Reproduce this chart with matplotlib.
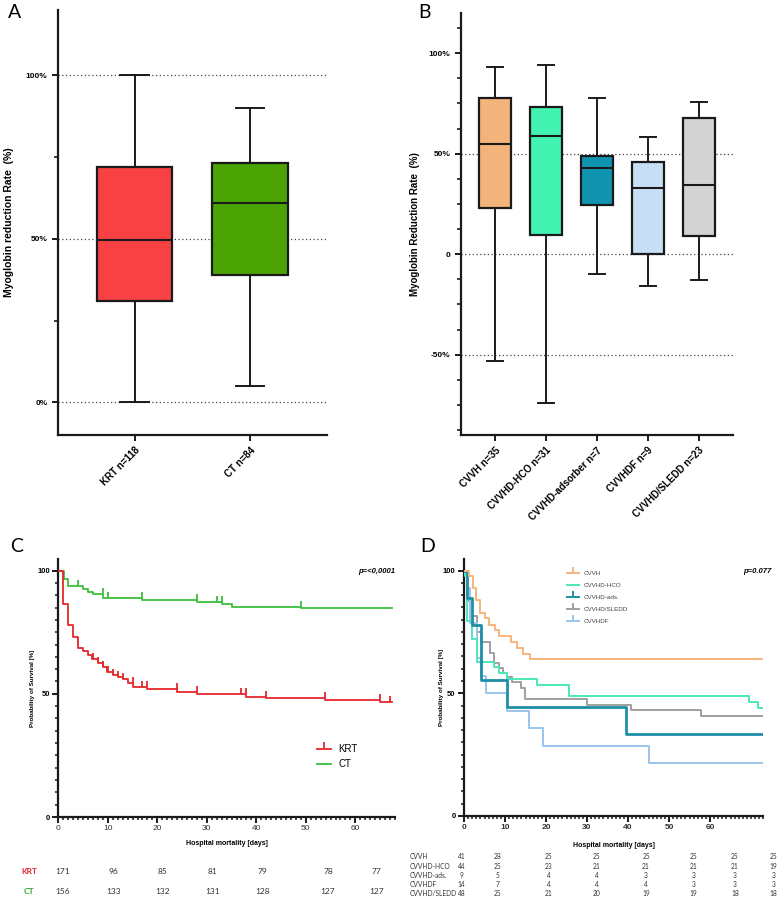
import numpy as np
import matplotlib
matplotlib.use("Agg")
import matplotlib.pyplot as plt
from matplotlib.ticker import MultipleLocator, FixedLocator
from matplotlib.lines import Line2D

plt.rcParams['font.family'] = ['Liberation Sans', 'DejaVu Sans']

# ---- panel A: myoglobin reduction rate (%), box stats
a_groups = ["KRT n=118", "CT n=84"]
a_whislo = [0.0, 5.0]
a_q1 = [31.0, 38.8]
a_med = [49.6, 61.1]
a_q3 = [72.0, 73.2]
a_whishi = [100.0, 90.0]
a_colors = ["#F94144", "#4CA404"]

# ---- panel B
b_groups = ["CVVH n=35", "CVVHD-HCO n=31", "CVVHD-adsorber n=7", "CVVHDF n=9", "CVVHD/SLEDD n=23"]
b_whislo = [-53.0, -74.0, -10.0, -16.0, -13.0]
b_q1 = [22.8, 9.6, 24.3, 0.3, 9.1]
b_med = [55.0, 59.0, 43.0, 32.9, 34.5]
b_q3 = [77.9, 73.2, 48.7, 46.0, 67.9]
b_whishi = [93.0, 94.0, 77.9, 58.1, 75.9]
b_colors = ["#F2B47A", "#41F2B0", "#1194B0", "#C8DDF6", "#D3D3D3"]

# ---- panel C: Kaplan-Meier, KRT vs CT
krt_days = [0, 1.0, 2.0, 2.9, 4.0, 4.9, 5.9, 6.9, 8.0, 9.0, 9.9, 11.0, 12.0, 13.0, 14.0, 15.0, 18.0, 23.9, 28.0, 37.9, 41.9, 53.9, 64.9]
krt_surv = [100, 86.5, 77.8, 73.0, 68.7, 67.4, 65.8, 64.0, 62.4, 61.0, 58.9, 57.7, 57.0, 56.0, 54.3, 52.9, 52.0, 50.9, 49.9, 48.9, 48.3, 47.5, 46.7]
krt_cens = [7.1, 8.1, 9.1, 10.1, 11.1, 12.1, 13.1, 15.0, 17.0, 18.0, 23.9, 28.0, 37.0, 37.9, 41.9, 53.9, 64.9, 67.0]
ct_days = [0, 1.2, 2.0, 4.9, 5.9, 7.0, 9.0, 17.0, 28.0, 33.0, 35.0, 49.0]
ct_surv = [100, 96.6, 93.9, 92.4, 91.4, 90.3, 89.0, 88.2, 87.3, 86.5, 85.4, 84.7]
ct_cens = [4.0, 9.0, 10.0, 17.0, 28.0, 32.0, 33.0, 49.0]
c_end = 67.5
c_table_x = [0.9, 11.1, 21.1, 31.1, 41.2, 54.5, 64.2]
krt_risk = [171, 96, 85, 81, 79, 78, 77]
ct_risk = [156, 133, 132, 131, 128, 127, 127]

# ---- panel D: Kaplan-Meier by modality
d_names = ["CVVH", "CVVHD-HCO", "CVVHD-ads.", "CVVHD/SLEDD", "CVVHDF"]
d_colors = ["#F5B57A", "#4DE8B8", "#1F8FA6", "#A0A0A0", "#9CC4EE"]
d_days = [
    [0, 1.2, 2.1, 3.0, 4.0, 5.0, 6.0, 7.5, 8.6, 11.5, 13.0, 14.5, 16.0],
    [0, 0.3, 0.8, 2.0, 3.1, 7.4, 8.5, 10.6, 17.9, 25.6, 69.5, 71.6],
    [0, 0.8, 2.0, 4.1, 10.6, 39.5],
    [0, 0.8, 1.5, 3.1, 4.1, 6.3, 7.4, 8.5, 9.6, 10.6, 11.6, 13.8, 14.9, 29.9, 40.7, 57.8],
    [0, 0.8, 1.5, 3.1, 4.1, 5.3, 10.5, 15.9, 19.2, 45.0],
]
d_surv = [
    [100, 97.6, 92.7, 87.8, 82.9, 80.5, 78.0, 75.6, 73.2, 70.7, 68.3, 65.9, 64.1],
    [100, 97.7, 79.5, 72.0, 62.8, 60.5, 58.1, 55.8, 53.5, 48.8, 46.5, 44.2],
    [100, 88.9, 77.8, 55.6, 44.4, 33.3],
    [100, 87.5, 81.3, 75.0, 70.8, 66.3, 62.5, 60.4, 58.3, 56.8, 54.6, 52.3, 47.7, 45.4, 43.1, 40.9],
    [100, 92.9, 78.6, 64.3, 57.1, 50.0, 42.9, 35.7, 28.6, 21.4],
]
d_end = 72.8
d_table_names = ["CVVH", "CVVHD-HCO", "CVVHD-ads.", "CVVHDF", "CVVHD/SLEDD"]
d_table_x = [-0.6, 8.2, 20.6, 32.4, 44.4, 55.9, 66.1, 75.5]
d_risk = [
    [41, 28, 25, 25, 25, 25, 25, 25],
    [44, 25, 23, 21, 21, 21, 21, 19],
    [9, 5, 4, 4, 3, 3, 3, 3],
    [14, 7, 4, 4, 4, 3, 3, 3],
    [48, 25, 21, 20, 19, 19, 18, 18],
]

INK = "#1a1a1a"
W, H = 777, 897


def px_axes(fig, left, right, top, bottom):
    return fig.add_axes([left / W, 1 - bottom / H, (right - left) / W, (bottom - top) / H])


def box_panel(ax, groups, lo, q1, med, q3, hi, colors, boxw, capw):
    stats = []
    for i in range(len(groups)):
        stats.append(dict(whislo=lo[i], q1=q1[i], med=med[i], q3=q3[i], whishi=hi[i], fliers=[]))
    pos = np.arange(len(groups))
    bp = ax.bxp(stats, positions=pos, widths=boxw, capwidths=capw, patch_artist=True,
                showfliers=False,
                boxprops=dict(lw=1.6, edgecolor=INK),
                medianprops=dict(color=INK, lw=1.5),
                whiskerprops=dict(color=INK, lw=1.4),
                capprops=dict(color=INK, lw=1.4), zorder=3)
    for patch, c in zip(bp['boxes'], colors):
        patch.set_facecolor(c)
    ax.set_xticks(pos)
    ax.set_xticklabels(groups, rotation=45, ha='right', rotation_mode='anchor',
                       fontsize=7, fontweight='bold')
    for s in ['top', 'right']:
        ax.spines[s].set_visible(False)
    for s in ['left', 'bottom']:
        ax.spines[s].set_linewidth(1.6)
        ax.spines[s].set_color(INK)
    ax.tick_params(axis='both', which='major', length=4, width=1.4, color=INK)
    ax.tick_params(axis='y', which='minor', length=3, width=1.2, color=INK)
    ax.tick_params(axis='y', labelsize=6)
    for t in ax.get_yticklabels():
        t.set_fontweight('bold')


def km_line(ax, days, surv, end, color, lw, cens=None):
    x = list(days) + [end]
    y = list(surv) + [surv[-1]]
    ax.step(x, y, where='post', color=color, lw=lw, zorder=3)
    if cens:
        idx = np.searchsorted(days, cens, side='left') - 1
        idx = np.clip(idx, 0, len(surv) - 1)
        lev = np.array(surv)[idx]
        ax.plot(cens, lev, ls='none', marker=2, markersize=4, mew=lw, color=color, zorder=3)


def km_axes(ax, xmax, xmajor):
    ax.set_xlim(0, xmax)
    ax.set_ylim(0, 104.7)
    ax.xaxis.set_major_locator(FixedLocator(xmajor))
    ax.xaxis.set_minor_locator(MultipleLocator(1))
    ax.yaxis.set_major_locator(FixedLocator([0, 50, 100]))
    ax.yaxis.set_minor_locator(MultipleLocator(5))
    for s in ['top', 'right']:
        ax.spines[s].set_visible(False)
    for s in ['left', 'bottom']:
        ax.spines[s].set_linewidth(1.6)
        ax.spines[s].set_color(INK)
    ax.tick_params(axis='both', which='major', length=4, width=1.4, color=INK, pad=2)
    ax.tick_params(axis='both', which='minor', length=2.5, width=1.1, color=INK)
    ax.tick_params(axis='y', labelsize=5.5)
    ax.tick_params(axis='x', labelsize=6, labelcolor='#333333')
    for t in ax.get_yticklabels():
        t.set_fontweight('bold')


fig = plt.figure(figsize=(W / 100, H / 100), dpi=100)

# ---------------- A
axA = px_axes(fig, 58, 327, 10, 435)
box_panel(axA, a_groups, a_whislo, a_q1, a_med, a_q3, a_whishi, a_colors, 0.656, 0.25)
axA.set_xlim(-0.665, 1.668)
axA.set_ylim(-10, 120)
axA.set_yticks([0, 50, 100])
axA.set_yticklabels(['0%', '50%', '100%'], fontweight='bold')
axA.yaxis.set_minor_locator(FixedLocator([25, 75]))
for v in [0, 50, 100]:
    axA.axhline(v, color='#444444', ls=(0, (1, 2)), lw=0.9, zorder=1)
axA.set_ylabel('Myoglobin reduction Rate  (%)', fontsize=7.5, fontweight='bold')
axA.yaxis.set_label_coords(-0.165, 0.5)

# ---------------- B
axB = px_axes(fig, 460.7, 733.3, 13, 435)
box_panel(axB, b_groups, b_whislo, b_q1, b_med, b_q3, b_whishi, b_colors, 0.64, 0.33)
axB.set_xlim(-0.673, 4.673)
axB.set_ylim(-90, 120)
axB.set_yticks([-50, 0, 50, 100])
axB.set_yticklabels(['-50%', '0', '50%', '100%'], fontweight='bold')
axB.yaxis.set_minor_locator(MultipleLocator(12.5))
for v in [-50, 0, 50]:
    axB.axhline(v, color='#444444', ls=(0, (1, 2)), lw=0.9, zorder=1)
axB.set_ylabel('Myoglobin Reduction Rate  (%)', fontsize=7, fontweight='bold')
axB.yaxis.set_label_coords(-0.149, 0.5)

# ---------------- C
axC = px_axes(fig, 58.3, 58.3 + 68 * 4.95, 559, 817)
km_axes(axC, 68, [0, 10, 20, 30, 40, 50, 60])
km_line(axC, ct_days, ct_surv, c_end, '#3CC03A', 1.3, ct_cens)
km_line(axC, krt_days, krt_surv, c_end, '#E6262C', 1.3, krt_cens)
axC.set_ylabel('Probability of Survival [%]', fontsize=4.5, fontweight='bold')
axC.yaxis.set_label_coords(-0.069, 0.5)
axC.set_xlabel('Hospital mortality [days]', fontsize=5, fontweight='bold')
axC.xaxis.set_label_coords(0.5, -0.09)
axC.text(1.0, 0.95, 'p=<0,0001', transform=axC.transAxes, ha='right', va='center',
         fontsize=5.5, fontweight='bold', style='italic')
hC = [Line2D([], [], color='#E6262C', lw=1.3, marker=2, markersize=5, mew=1.3),
      Line2D([], [], color='#3CC03A', lw=1.3)]
axC.legend(hC, ['KRT', 'CT'], loc='upper left', bbox_to_anchor=(0.755, 0.30), frameon=False,
           fontsize=7, handlelength=1.4, handletextpad=0.8, labelspacing=0.5, borderpad=0)
tr = axC.get_xaxis_transform()
axC.text(-5.9, -0.213, 'KRT', transform=tr, ha='center', va='center', fontsize=6,
         fontweight='bold', color='#E6262C', family='Lato', clip_on=False)
axC.text(-5.9, -0.29, 'CT', transform=tr, ha='center', va='center', fontsize=6,
         fontweight='bold', color='#2EA82C', family='Lato', clip_on=False)
for x, a, b in zip(c_table_x, krt_risk, ct_risk):
    axC.text(x, -0.213, str(a), transform=tr, ha='center', va='center', fontsize=6,
             color='#333333', family='Lato', clip_on=False)
    axC.text(x, -0.29, str(b), transform=tr, ha='center', va='center', fontsize=6,
             color='#333333', family='Lato', clip_on=False)

# ---------------- D
axD = px_axes(fig, 464, 464 + 73 * 4.1, 559, 816)
km_axes(axD, 73, [0, 10, 20, 30, 40, 50, 60])
for t in axD.get_xticklabels():
    t.set_fontweight('bold')
for i in [3, 4, 1, 2, 0]:
    km_line(axD, d_days[i], d_surv[i], d_end, d_colors[i], 2.0 if i == 2 else 1.4)
axD.set_ylabel('Probability of Survival [%]', fontsize=4.5, fontweight='bold')
axD.yaxis.set_label_coords(-0.067, 0.5)
axD.set_xlabel('Hospital mortality [days]', fontsize=5, fontweight='bold')
axD.xaxis.set_label_coords(0.5, -0.1)
axD.text(1.028, 0.953, 'p=0.077', transform=axD.transAxes, ha='right', va='center',
         fontsize=5.5, fontweight='bold', style='italic')
d_mark = [2, None, 2, 2, 2]
hD = []
for i in range(len(d_names)):
    if d_mark[i] is None:
        hD.append(Line2D([], [], color=d_colors[i], lw=1.4))
    else:
        hD.append(Line2D([], [], color=d_colors[i], lw=1.4, marker=2, markersize=4, mew=1.4))
legD = axD.legend(hD, d_names, loc='upper left', bbox_to_anchor=(0.335, 0.965), frameon=False,
                  fontsize=4.5, handlelength=1.8, handletextpad=0.8, labelspacing=1.05, borderpad=0)
for t in legD.get_texts():
    t.set_color('#444444')
tr = axD.get_xaxis_transform()
d_rows_y = [-0.156, -0.195, -0.230, -0.265, -0.300]
for name, row, yy in zip(d_table_names, d_risk, d_rows_y):
    axD.text(-13.2, yy, name, transform=tr, ha='left', va='center', fontsize=4.8,
             color='#333333', family='Lato', clip_on=False)
    for x, v in zip(d_table_x, row):
        axD.text(x, yy, str(v), transform=tr, ha='center', va='center', fontsize=4.8,
                 color='#333333', family='Lato', clip_on=False)

# panel letters
for lab, x, y in [('A', 8, 12), ('B', 418, 12), ('C', 10, 547), ('D', 420, 547)]:
    fig.text(x / W, 1 - y / H, lab, fontsize=14, family='Lato', va='center', ha='left')

fig.savefig('out.png', dpi=100)
